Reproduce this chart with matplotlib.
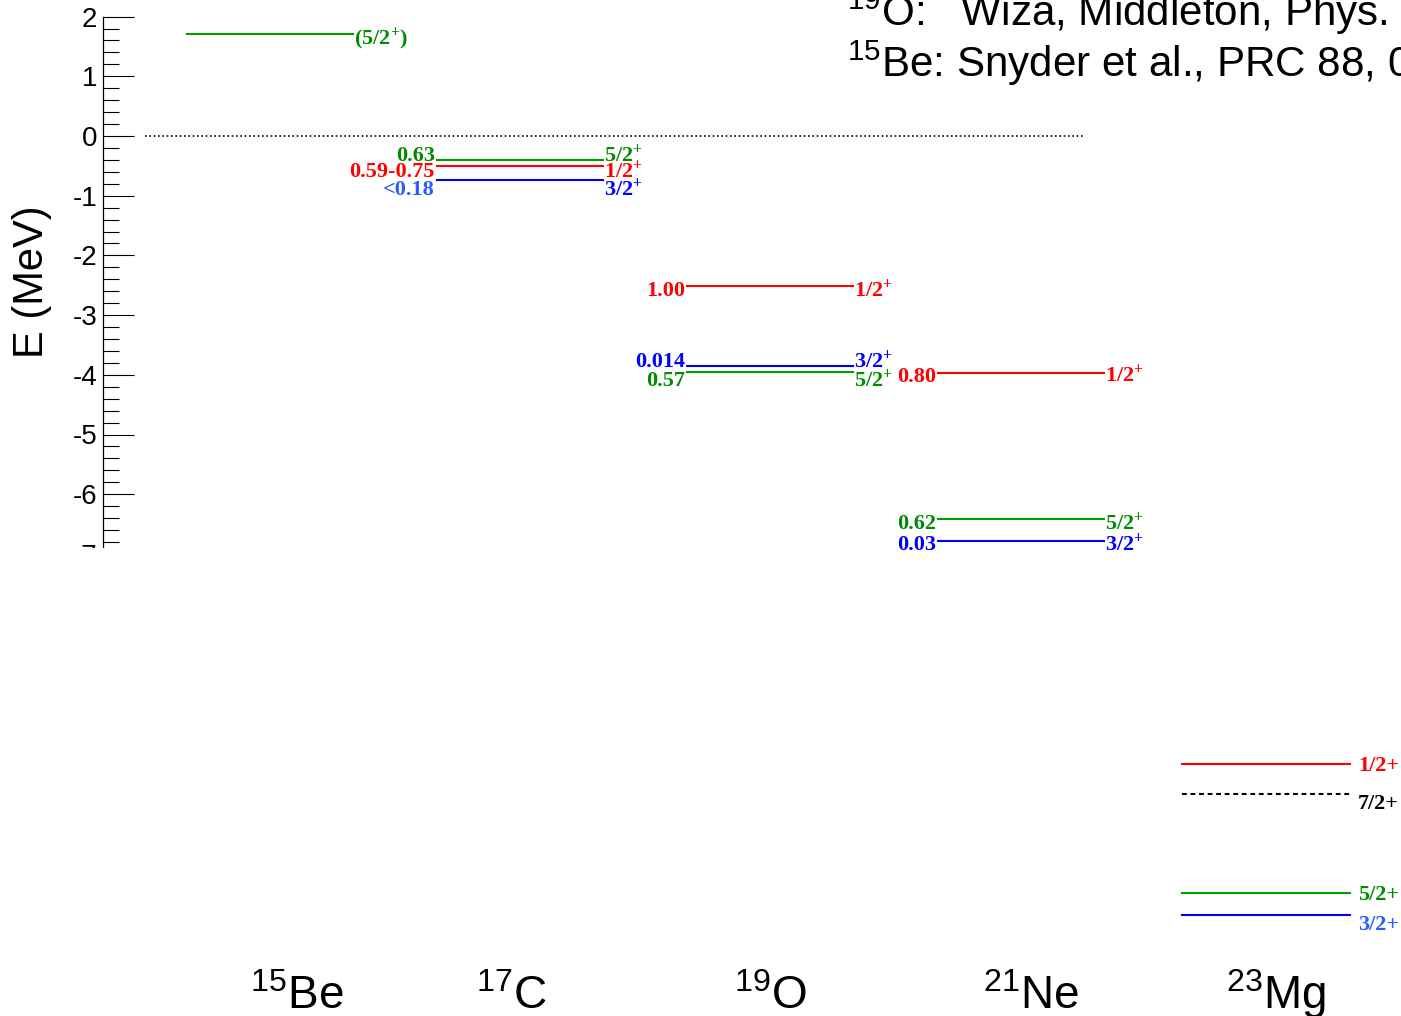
import matplotlib
matplotlib.use("Agg")
import matplotlib.pyplot as plt
import matplotlib.patches as mpatches
import numpy as np

plt.rcParams['font.family'] = ['Liberation Sans', 'DejaVu Sans']
plt.rcParams['mathtext.default'] = 'regular'
plt.rcParams['axes.unicode_minus'] = False

# nuclei shown, left to right
nuclei = ['$^{15}$Be', '$^{17}$C', '$^{19}$O', '$^{21}$Ne', '$^{23}$Mg']

# level energies (MeV, relative to neutron threshold), spins and widths
be15_E = [1.71]
be15_J = ['5/2+']
be15_W = ['']

c17_E = [-0.40, -0.51, -0.73]
c17_J = ['5/2+', '1/2+', '3/2+']
c17_W = ['0.63', '0.59-0.75', '<0.18']

o19_E = [-2.51, -3.86, -3.96]
o19_J = ['1/2+', '3/2+', '5/2+']
o19_W = ['1.00', '0.014', '0.57']

ne21_E = [-3.97, -6.41, -6.78]
ne21_J = ['1/2+', '5/2+', '3/2+']
ne21_W = ['0.80', '0.62', '0.03']

mg23_E = [-10.52, -11.02, -12.68, -13.05]
mg23_J = ['1/2+', '7/2+', '5/2+', '3/2+']
mg23_W = ['', '', '', '']

refs = ['$^{19}$O:   Wiza, Middleton, Phys. Rev. 143, 676 (1966)',
        '$^{15}$Be: Snyder et al., PRC 88, 031303(R) (2013)']

# ---- styling / layout ----
line_col = {'1/2+': '#ff0000', '3/2+': '#0000ff', '5/2+': '#009e00', '7/2+': 'black'}
text_col = {'1/2+': '#ff0000', '3/2+': '#0000ff', '5/2+': '#008c00', '7/2+': 'black'}
x0s = [187, 437, 687, 938, 1182]
x1s = [353, 603, 853, 1104, 1350]
label_x = [297, 511, 770, 1031, 1276]
spin_fmt = ['paren', 'sup', 'sup', 'sup', 'plain']
# vertical shift of the labels (pixels, downwards) so close levels don't overlap
label_dy = [[2], [-6, 3, 8], [3, -7, 6], [1, 3, 2], [-1, 8, 0, 7]]
light_blue = '#2a5cff'

levels = [(be15_E, be15_J, be15_W), (c17_E, c17_J, c17_W), (o19_E, o19_J, o19_W),
          (ne21_E, ne21_J, ne21_W), (mg23_E, mg23_J, mg23_W)]

W, H = 1401, 1016
px_per_mev = 59.7
y_zero = 136

fig = plt.figure(figsize=(W / 100, H / 100), dpi=100)
ax = fig.add_axes([0, 0, 1, 1])
ax.set_xlim(0, W)
ax.set_ylim(-(H - y_zero) / px_per_mev, y_zero / px_per_mev)

for s in ['top', 'right', 'bottom']:
    ax.spines[s].set_visible(False)
ax.spines['left'].set_position(('data', 103))
ax.spines['left'].set_bounds(-6.9, 2)
ax.spines['left'].set_linewidth(0.9)
ax.set_xticks([])
ax.set_yticks(range(-7, 3))
ax.set_yticks(np.arange(-7, 2.01, 0.2), minor=True)
ax.tick_params(axis='y', which='major', direction='in', length=22.5, width=0.8,
               pad=4.3, labelsize=20)
ax.tick_params(axis='y', which='minor', direction='in', length=11.5, width=0.8)

# neutron threshold
ax.plot([145, 1083], [0, 0], color='black', lw=1.2, linestyle=(0, (1, 1.6)))

serif = dict(family='Liberation Serif', fontweight='bold', fontsize=16)

for i, (Es, Js, Ws) in enumerate(levels):
    for k, (e, j, w) in enumerate(zip(Es, Js, Ws)):
        ls = '-'
        if j == '7/2+':
            ls = (0, (2.3, 1.8))
        ax.plot([x0s[i], x1s[i]], [e, e], color=line_col[j], lw=1.5, linestyle=ls)
        dy = -(label_dy[i][k] + 7.5)
        if spin_fmt[i] == 'plain':
            jt = j
            jx = 8
        elif spin_fmt[i] == 'paren':
            jt = '(' + j[:-1] + '$^{+}$)'
            jx = 1
        else:
            jt = j[:-1] + '$^{+}$'
            jx = 1
        jc = text_col[j]
        if i == 4 and j == '3/2+':
            jc = light_blue
        ax.annotate(jt, (x1s[i], e), xytext=(jx, dy), textcoords='offset pixels',
                    ha='left', va='baseline', color=jc, **serif)
        if w:
            wc = text_col[j]
            if w.startswith('<'):
                wc = light_blue
            ax.annotate(w, (x0s[i], e), xytext=(-2, dy), textcoords='offset pixels',
                        ha='right', va='baseline', color=wc, **serif)

# nucleus names under the columns
for name, x in zip(nuclei, label_x):
    fig.text(x / W, 1 - 1009 / H, name, fontsize=33, ha='center', va='baseline')

fig.text(32 / W, 1 - 282 / H, 'E (MeV)', rotation=90, ha='center', va='center', fontsize=30)

fig.text(847 / W, 1 - 26 / H, refs[0], fontsize=30.3, ha='left', va='baseline')
fig.text(847 / W, 1 - 77 / H, refs[1], fontsize=30.3, ha='left', va='baseline')

# the axis pad ends just below -6.9 MeV
fig.add_artist(mpatches.Rectangle((55 / W, 1 - 580 / H), 90 / W, 32 / H,
                                  transform=fig.transFigure, facecolor='white',
                                  edgecolor='none', zorder=10))

fig.savefig('out.png', dpi=100)
plt.close(fig)
